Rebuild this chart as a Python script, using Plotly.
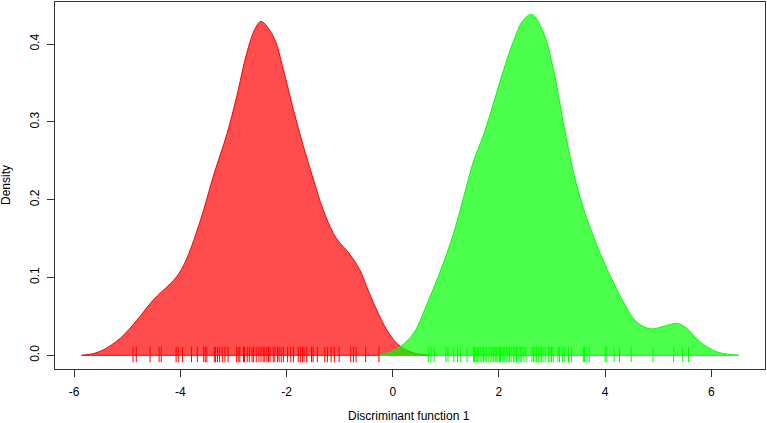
import plotly.graph_objects as go

# Density curve of group 1 (red)
red_x = [-5.86, -5.65, -5.45, -5.13, -4.82, -4.51, -4.19, -4.07, -3.95, -3.81, -3.56, -3.38,
         -3.12, -2.94, -2.75, -2.59, -2.48, -2.25, -2.06, -1.87, -1.68, -1.49, -1.31, -1.12,
         -0.99, -0.87, -0.68, -0.58, -0.49, -0.30, -0.11, 0.075, 0.26, 0.45, 0.71]
red_y = [0.0, 0.002, 0.007, 0.022, 0.045, 0.071, 0.092, 0.101, 0.114, 0.136, 0.187, 0.230,
         0.285, 0.332, 0.388, 0.420, 0.429, 0.410, 0.367, 0.315, 0.268, 0.225, 0.187, 0.157,
         0.144, 0.135, 0.117, 0.104, 0.088, 0.058, 0.0325, 0.0154, 0.0068, 0.002, 0.0]

# Density curve of group 2 (green)
green_x = [-0.25, -0.05, 0.14, 0.39, 0.64, 0.89, 1.14, 1.33, 1.52, 1.71, 1.89, 2.08, 2.27,
           2.46, 2.62, 2.83, 3.02, 3.21, 3.40, 3.59, 3.84, 4.09, 4.34, 4.59, 4.84, 5.09,
           5.35, 5.53, 5.78, 6.10, 6.35, 6.52]
green_y = [0.0, 0.004, 0.011, 0.028, 0.065, 0.107, 0.155, 0.202, 0.249, 0.283, 0.322, 0.365,
           0.403, 0.431, 0.438, 0.416, 0.369, 0.300, 0.236, 0.189, 0.142, 0.103, 0.069, 0.043,
           0.034, 0.037, 0.041, 0.035, 0.0175, 0.0046, 0.001, 0.0]

# Rug (individual observations)
red_rug = [-4.89, -4.83, -4.57, -4.40, -4.36, -4.08, -4.04, -3.96, -3.79, -3.68, -3.56, -3.53,
           -3.50, -3.36, -3.34, -3.30, -3.26, -3.21, -3.16, -3.10, -2.94, -2.91, -2.88, -2.81,
           -2.79, -2.74, -2.70, -2.65, -2.62, -2.57, -2.52, -2.48, -2.44, -2.41, -2.37, -2.34,
           -2.31, -2.25, -2.22, -2.17, -2.14, -2.10, -2.06, -1.98, -1.92, -1.87, -1.78, -1.74,
           -1.70, -1.67, -1.62, -1.53, -1.50, -1.42, -1.28, -1.23, -1.16, -1.10, -1.01, -0.79,
           -0.74, -0.69, -0.51, -0.26]
green_rug = [0.67, 0.72, 0.78, 1.00, 1.04, 1.15, 1.22, 1.28, 1.40, 1.52, 1.54, 1.57, 1.59, 1.62,
             1.66, 1.68, 1.71, 1.74, 1.77, 1.81, 1.85, 1.87, 1.90, 1.93, 1.95, 1.98, 2.01, 2.03,
             2.06, 2.08, 2.11, 2.15, 2.17, 2.20, 2.23, 2.27, 2.30, 2.33, 2.36, 2.40, 2.43, 2.47,
             2.51, 2.62, 2.65, 2.68, 2.71, 2.74, 2.77, 2.80, 2.83, 2.87, 2.93, 2.96, 2.99, 3.02,
             3.11, 3.14, 3.20, 3.24, 3.31, 3.37, 3.59, 3.61, 3.64, 3.70, 4.00, 4.03, 4.17, 4.27,
             4.49, 4.90, 5.29, 5.46, 5.57]

x_ticks = [-6, -4, -2, 0, 2, 4, 6]
x_ticklabels = ["-6", "-4", "-2", "0", "2", "4", "6"]
y_ticks = [0.0, 0.1, 0.2, 0.3, 0.4]
y_ticklabels = ["0.0", "0.1", "0.2", "0.3", "0.4"]

FONT = "Liberation Sans, Arial, sans-serif"

fig = go.Figure()

groups = [
    (red_x, red_y, red_rug, "rgba(255,0,0,0.7)", "rgb(255,0,0)"),
    (green_x, green_y, green_rug, "rgba(0,255,0,0.7)", "rgb(0,255,0)"),
]
for cx, cy, rug, fillc, linec in groups:
    fig.add_trace(go.Scatter(
        x=cx, y=cy, mode="lines", line=dict(color=linec, width=1, shape="spline", smoothing=1.0),
        fill="tozeroy", fillcolor=fillc, hoverinfo="skip", showlegend=False))
    fig.add_trace(go.Scatter(
        x=[cx[0], cx[-1]], y=[0, 0], mode="lines", line=dict(color=linec, width=1),
        hoverinfo="skip", showlegend=False))
for cx, cy, rug, fillc, linec in groups:
    fig.add_trace(go.Scatter(
        x=rug, y=[0.001] * len(rug), mode="markers",
        marker=dict(symbol="line-ns", size=11, line=dict(color=linec, width=1)),
        hoverinfo="x", showlegend=False))

fig.update_layout(
    width=767, height=423,
    margin=dict(l=55, r=2, t=2, b=54),
    paper_bgcolor="white", plot_bgcolor="white",
    font=dict(family=FONT, size=12, color="black"),
    xaxis=dict(range=[-6.36, 7.01], tickvals=x_ticks, ticktext=x_ticklabels,
               showgrid=False, zeroline=False, showline=True, mirror=True, automargin=False,
               linecolor="#333333", linewidth=1, ticks="outside", ticklen=7,
               tickcolor="#333333", tickfont=dict(size=12), ticklabelstandoff=5),
    yaxis=dict(range=[-0.0176, 0.454], tickvals=y_ticks, ticktext=y_ticklabels,
               showgrid=False, zeroline=False, showline=True, mirror=True, automargin=False,
               linecolor="#333333", linewidth=1, ticks="outside", ticklen=7,
               tickcolor="#333333", tickangle=-90, tickfont=dict(size=12),
               ticklabelstandoff=3),
    annotations=[
        dict(text="Discriminant function 1", xref="paper", yref="paper",
             x=(409 - 55) / 710, y=(369 - 416) / 367, xanchor="center", yanchor="middle",
             showarrow=False, font=dict(size=12)),
        dict(text="Density", xref="paper", yref="paper", textangle=-90,
             x=(6 - 55) / 710, y=(369 - 185) / 367, xanchor="center", yanchor="middle",
             showarrow=False, font=dict(size=12)),
    ],
)

fig.write_html("out.html", config={"displayModeBar": False},
               post_script="document.body.style.margin='0';")
